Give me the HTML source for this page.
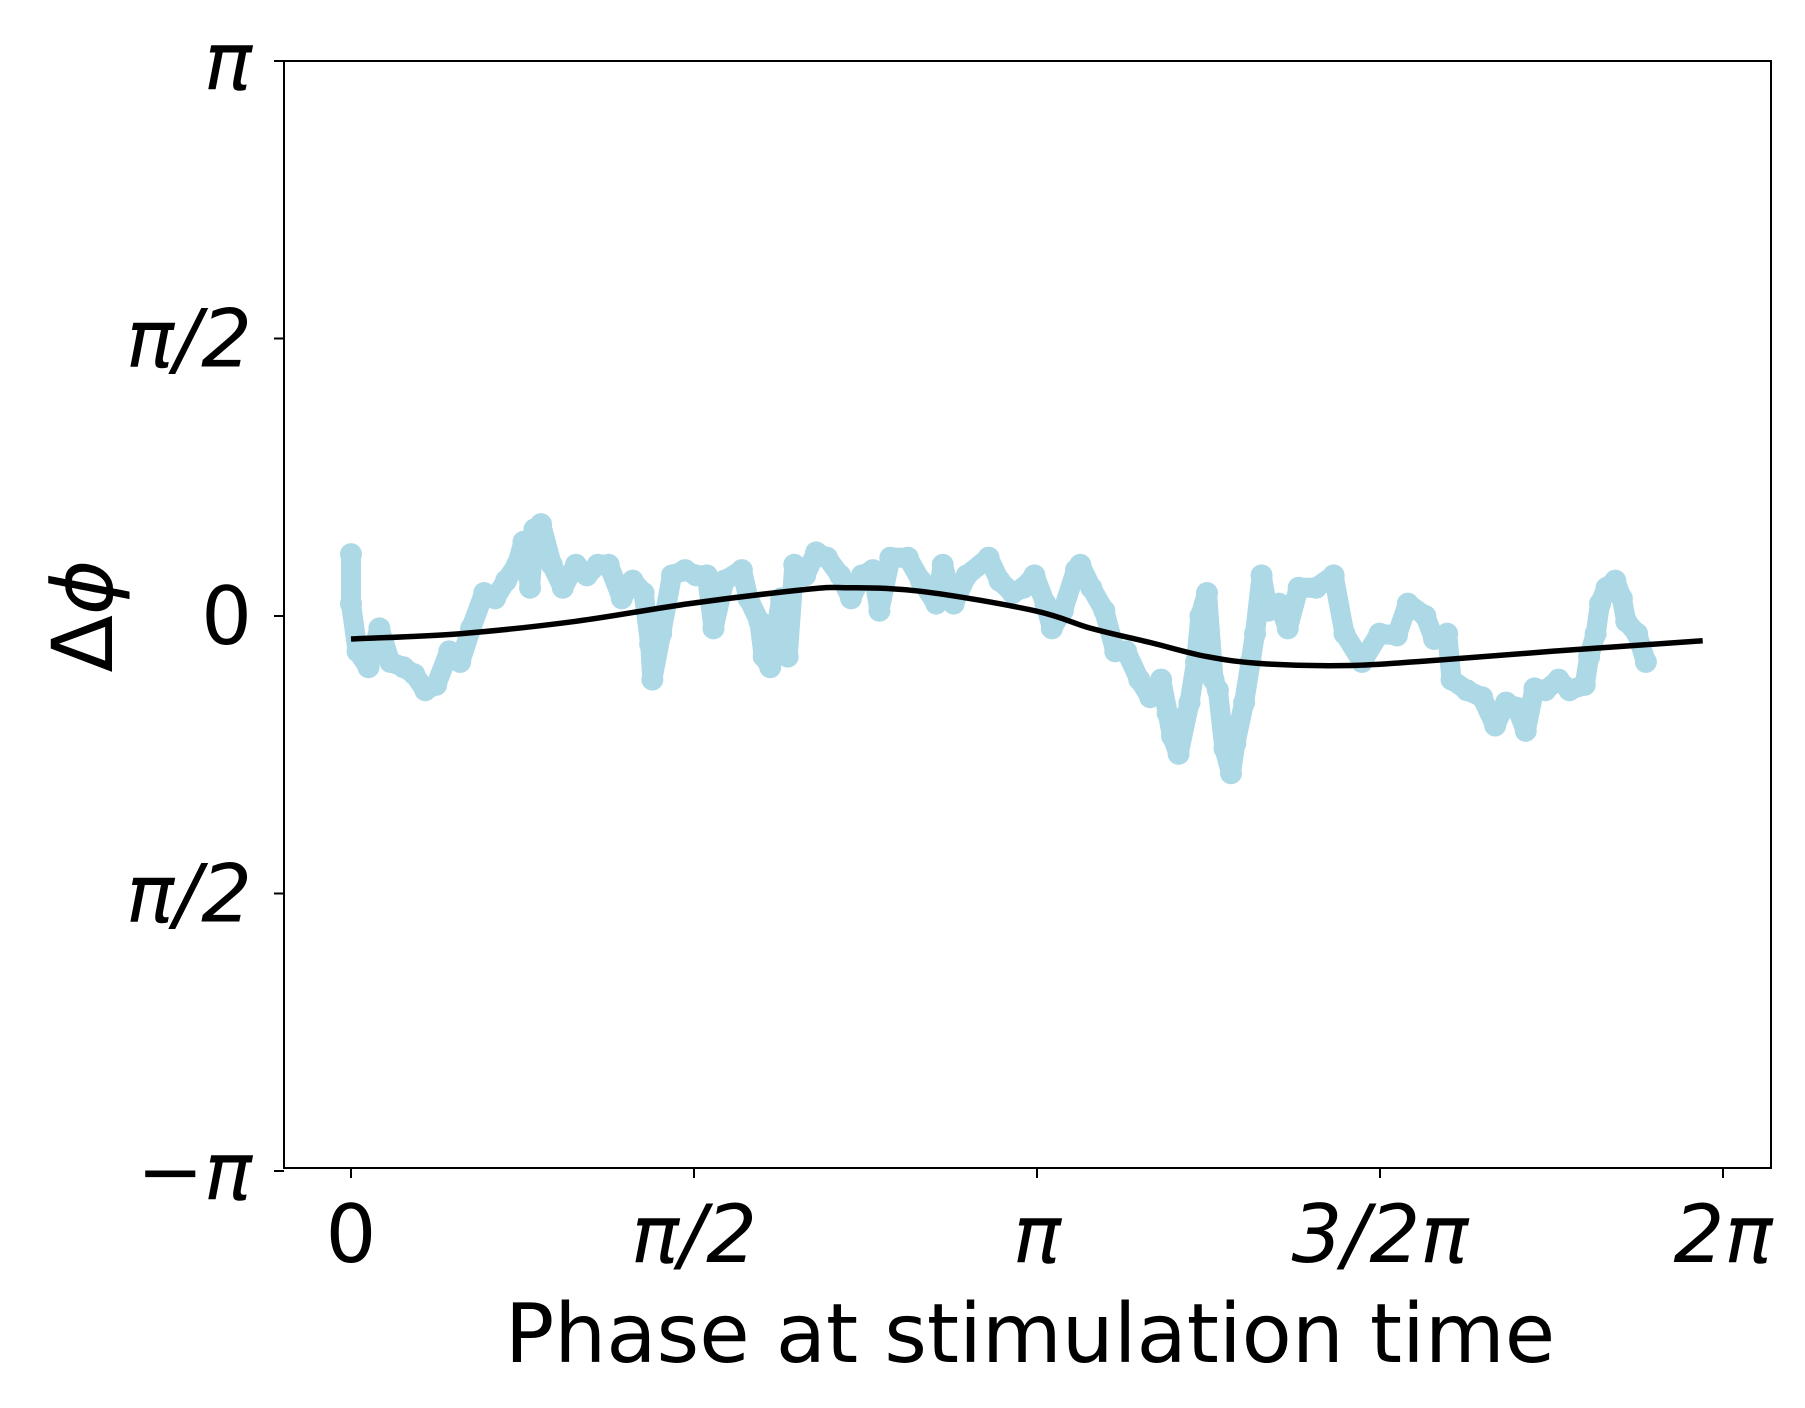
<!DOCTYPE html>
<html><head><meta charset="utf-8"><style>
html,body{margin:0;padding:0;background:#fff;}
svg{display:block;font-family:"DejaVu Sans","Liberation Sans",sans-serif;}
</style></head><body>
<svg id="chart" width="1805" height="1408" viewBox="0 0 1805 1408">
<g id="marks"></g>
<rect x="284" y="61" width="1487" height="1107" fill="none" stroke="#000" stroke-width="2"/>
<g id="axes"></g>
<text x="1030" y="1362" font-size="82" text-anchor="middle">Phase at stimulation time</text>
<text transform="translate(112,616) rotate(-90)" font-size="84" text-anchor="middle">Δ<tspan font-style="italic">ϕ</tspan></text>
</svg>
<script>
const xs=[0.00,0.00,0.03,0.08,0.13,0.18,0.24,0.29,0.34,0.39,0.45,0.50,0.55,0.61,0.66,0.71,0.76,0.79,0.82,0.84,0.87,0.92,0.97,1.03,1.08,1.13,1.18,1.24,1.29,1.34,1.37,1.38,1.42,1.47,1.53,1.58,1.63,1.66,1.71,1.79,1.82,1.87,1.89,1.92,1.97,2.00,2.03,2.08,2.13,2.18,2.24,2.29,2.34,2.39,2.42,2.47,2.55,2.61,2.68,2.71,2.76,2.82,2.92,2.97,3.03,3.08,3.13,3.18,3.21,3.26,3.32,3.34,3.39,3.45,3.50,3.55,3.61,3.66,3.71,3.74,3.76,3.79,3.84,3.87,3.89,3.92,3.95,3.97,4.00,4.03,4.05,4.09,4.12,4.14,4.17,4.20,4.25,4.29,4.34,4.42,4.50,4.55,4.63,4.71,4.79,4.84,4.92,4.96,5.02,5.04,5.11,5.18,5.24,5.29,5.34,5.38,5.42,5.47,5.53,5.58,5.65,5.67,5.70,5.72,5.75,5.79,5.82,5.84,5.89,5.93];
const ys=[0.35,0.07,-0.20,-0.29,-0.07,-0.26,-0.29,-0.33,-0.42,-0.39,-0.20,-0.26,-0.07,0.13,0.10,0.20,0.29,0.42,0.16,0.49,0.52,0.29,0.16,0.29,0.23,0.29,0.29,0.10,0.20,0.13,-0.16,-0.36,-0.10,0.23,0.26,0.23,0.23,-0.07,0.20,0.26,0.10,-0.03,-0.23,-0.29,0.10,-0.23,0.29,0.23,0.36,0.33,0.23,0.10,0.23,0.26,0.03,0.33,0.33,0.20,0.07,0.29,0.07,0.23,0.33,0.20,0.13,0.16,0.23,0.07,-0.07,0.03,0.26,0.29,0.16,0.03,-0.20,-0.20,-0.36,-0.46,-0.36,-0.55,-0.68,-0.78,-0.49,-0.26,0.00,0.13,-0.36,-0.42,-0.75,-0.89,-0.72,-0.49,-0.26,-0.10,0.23,0.03,0.07,-0.07,0.16,0.16,0.23,-0.10,-0.26,-0.10,-0.11,0.07,0.00,-0.13,-0.10,-0.36,-0.42,-0.46,-0.62,-0.49,-0.52,-0.65,-0.41,-0.42,-0.36,-0.42,-0.39,-0.23,-0.10,0.07,0.16,0.20,0.10,-0.03,-0.10,-0.26];
const fitX=[0,0.50,1.03,1.55,2.08,2.26,2.61,3.13,3.39,3.66,3.92,4.18,4.58,4.97,5.50,6.19];
const fitY=[-0.13,-0.10,-0.03,0.07,0.15,0.16,0.14,0.03,-0.07,-0.15,-0.23,-0.27,-0.28,-0.25,-0.20,-0.14];
const xTickVals=[0,Math.PI/2,Math.PI,1.5*Math.PI,2*Math.PI];
const xTickLabels=['0','π/2','π','3/2π','2π'];
const yTickVals=[Math.PI,Math.PI/2,0,-Math.PI/2,-Math.PI];
const yTickLabels=['π','π/2','0','π/2','−π'];

const NS='http://www.w3.org/2000/svg';
const X=v=>351+v*(1372/(2*Math.PI));
const Y=v=>616-v*(555/Math.PI);
const marks=document.getElementById('marks');
const axes=document.getElementById('axes');
function mk(tag,attrs,parent){const e=document.createElementNS(NS,tag);for(const k in attrs)e.setAttribute(k,attrs[k]);parent.appendChild(e);return e;}

let d='';
for(let i=0;i<xs.length;i++){d+=(i?'L':'M')+X(xs[i]).toFixed(1)+' '+Y(ys[i]).toFixed(1);}
const band=mk('path',{d:d,fill:'none',stroke:'#add8e6','stroke-width':20,'stroke-linejoin':'round','stroke-linecap':'round'},marks);


for(let i=0;i<xs.length;i++){
  const c=mk('circle',{cx:X(xs[i]),cy:Y(ys[i]),r:11,fill:'#add8e6'},marks);
  
  
}
// Catmull-Rom smooth curve through fit samples
const P=fitX.map((v,i)=>[X(v),Y(fitY[i])]);
let fd='M'+P[0][0].toFixed(1)+' '+P[0][1].toFixed(1);
for(let i=0;i<P.length-1;i++){
  const p0=P[Math.max(0,i-1)],p1=P[i],p2=P[i+1],p3=P[Math.min(P.length-1,i+2)];
  const c1=[p1[0]+(p2[0]-p0[0])/6,p1[1]+(p2[1]-p0[1])/6];
  const c2=[p2[0]-(p3[0]-p1[0])/6,p2[1]-(p3[1]-p1[1])/6];
  fd+='C'+c1[0].toFixed(1)+' '+c1[1].toFixed(1)+' '+c2[0].toFixed(1)+' '+c2[1].toFixed(1)+' '+p2[0].toFixed(1)+' '+p2[1].toFixed(1);
}
const fit=mk('path',{d:fd,fill:'none',stroke:'#000','stroke-width':5.5},marks);



xTickVals.forEach((v,i)=>{
  const t=mk('line',{x1:X(v),x2:X(v),y1:1168,y2:1178,stroke:'#000','stroke-width':2},axes);
  
  
  const l=mk('text',{x:X(v),y:1262,'font-size':80,'text-anchor':'middle'},axes);
  l.textContent=xTickLabels[i];
  if(xTickLabels[i]!=='0')l.setAttribute('font-style','italic');
  
  
});
yTickVals.forEach((v,i)=>{
  const t=mk('line',{x1:274,x2:284,y1:Y(v),y2:Y(v),stroke:'#000','stroke-width':2},axes);
  
  
  const l=mk('text',{x:252,y:Y(v)+28,'font-size':80,'text-anchor':'end'},axes);
  l.textContent=yTickLabels[i];
  if(yTickLabels[i]!=='0')l.setAttribute('font-style','italic');
  
  
});
</script>
</body></html>
